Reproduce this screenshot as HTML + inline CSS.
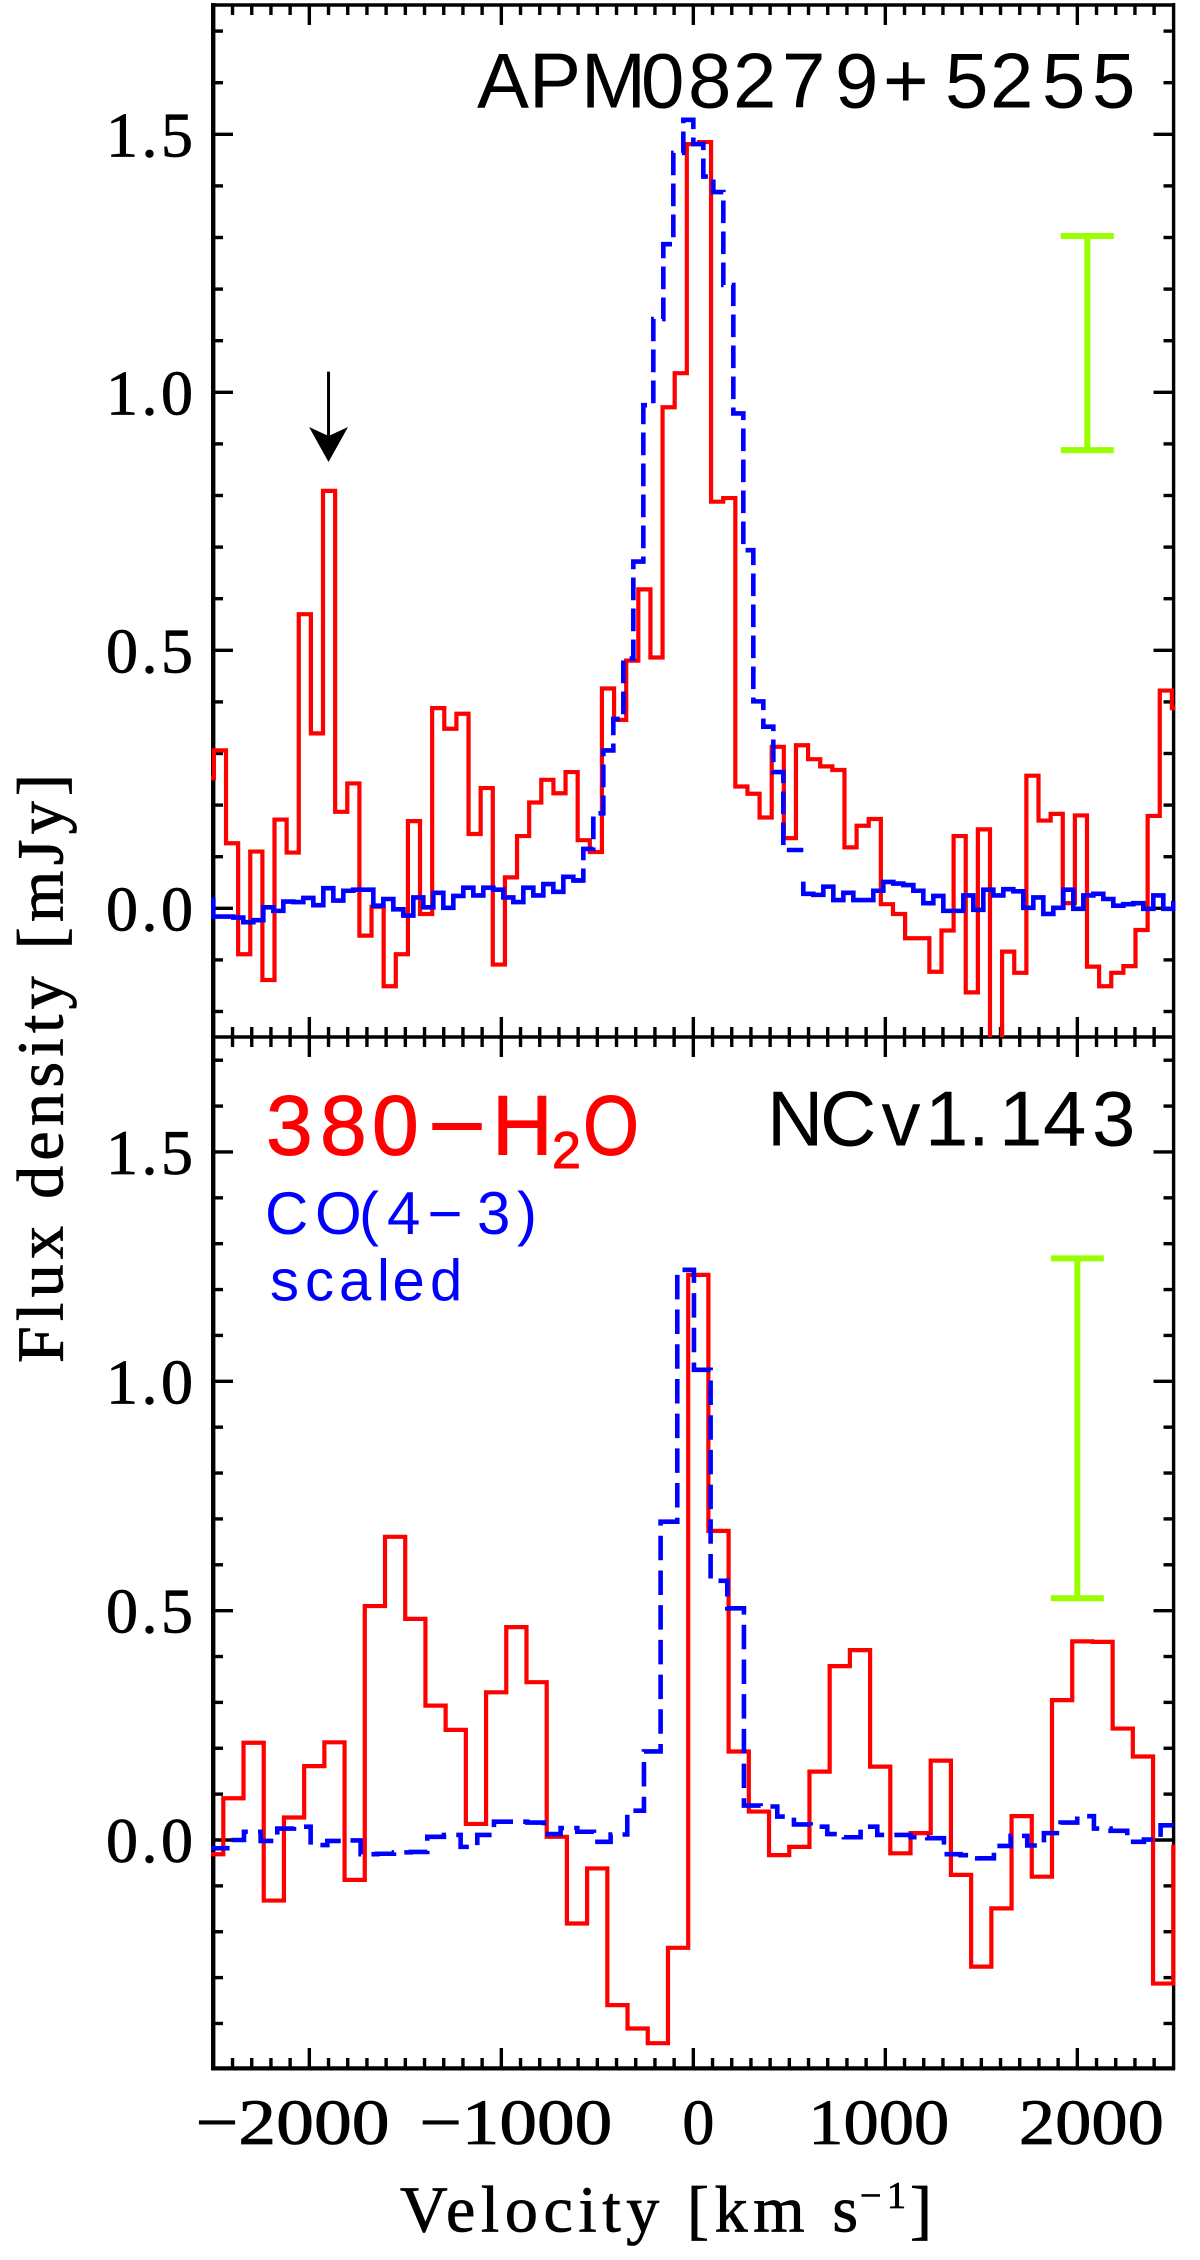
<!DOCTYPE html>
<html lang="en">
<head>
<meta charset="utf-8">
<title>APM08279+5255 and NCv1.143 spectra</title>
<style>
html,body{margin:0;padding:0;background:#fff;}
svg{display:block;position:absolute;left:0;top:0;}
.serif{font-family:"Liberation Serif",serif;fill:#000;stroke:#000;stroke-width:.8;}
.sans{font-family:"Liberation Sans",sans-serif;}
</style>
</head>
<body>
<svg id="chart" xmlns="http://www.w3.org/2000/svg" width="1200" height="2260" viewBox="0 0 1200 2260">
  <defs>
    <clipPath id="clip-top"><rect x="211" y="3" width="964.5" height="1034"/></clipPath>
    <clipPath id="clip-bottom"><rect x="211" y="1037" width="964.5" height="1031"/></clipPath>
  </defs>
  <rect x="0" y="0" width="1200" height="2260" fill="#fff"/>
  <g id="axes"></g>
  <g id="series"></g>
  <g id="overlays"></g>

  <text class="sans" x="477 529 581 641 688 733 782 835 883 945 990 1042 1092" y="107.5" font-size="78" fill="#000">APM08279+5255</text>
  <text class="sans" x="767 820 881.5 925 968 999 1043 1092" y="1145.5" font-size="78" fill="#000">NCv1.143</text>

  <g class="sans" fill="#f00" stroke="#f00" stroke-width="1">
    <text x="266 320 372" y="1154.5" font-size="84">380</text>
    <text x="428" y="1154.5" font-size="84" textLength="58" lengthAdjust="spacingAndGlyphs">−</text>
    <text x="492" y="1154.5" font-size="84">H</text>
    <text x="552" y="1168" font-size="52">2</text>
    <text x="583" y="1154.5" font-size="84" textLength="56" lengthAdjust="spacingAndGlyphs">O</text>
  </g>
  <text class="sans" x="265 315 359 387 427.5 477 517" y="1234" font-size="60" fill="#00f">CO(4−3)</text>
  <text class="sans" x="270 305 339 377 392.5 430" y="1300.5" font-size="58" fill="#00f">scaled</text>

  <text class="serif" transform="translate(62.5,1363) rotate(-90)" x="0" y="0" font-size="66" textLength="589" lengthAdjust="spacing">Flux density [mJy]</text>

  <g class="serif">
    <text x="400" y="2231.5" font-size="66" textLength="458" lengthAdjust="spacing">Velocity [km s</text>
    <text x="860" y="2208" font-size="38" textLength="46" lengthAdjust="spacing">−1</text>
    <text x="910" y="2231.5" font-size="66">]</text>
  </g>
</svg>
<script>
// ---- data ----
const xMajorTicks = [-2000, -1000, 0, 1000, 2000];
const xMajorLabels = ['−2000', '−1000', '0', '1000', '2000'];
const yMajorTicks = [0, 0.5, 1.0, 1.5];
const yMajorLabels = ['0.0', '0.5', '1.0', '1.5'];

const apmRedStart = -2560.3;
const apmRedBinWidth = 63.16;
const apmRedFlux = [0.252,0.306,0.126,-0.089,0.110,-0.139,0.172,0.108,0.570,0.339,0.809,0.187,0.242,-0.053,0.003,-0.151,-0.089,0.169,-0.011,0.388,0.348,0.377,0.144,0.233,-0.109,0.060,0.140,0.205,0.249,0.223,0.264,0.132,0.109,0.426,0.365,0.480,0.618,0.486,0.971,1.037,1.481,1.485,0.788,0.795,0.236,0.222,0.176,0.313,0.136,0.316,0.289,0.275,0.268,0.118,0.160,0.173,0.008,-0.011,-0.058,-0.058,-0.123,-0.043,0.140,-0.163,0.153,-0.300,-0.084,-0.125,0.257,0.170,0.183,0.010,0.180,-0.113,-0.151,-0.125,-0.112,-0.042,0.179,0.422,0.388];

const apmBlueStart = -2552.08;
const apmBlueBinWidth = 52.083;
const apmBlueFlux = [0.016,-0.016,-0.016,-0.018,-0.027,-0.023,0.002,-0.005,0.013,0.012,0.020,0.006,0.039,0.015,0.034,0.036,0.036,0.005,0.018,-0.002,-0.014,0.021,0.002,0.030,0.001,0.024,0.040,0.025,0.040,0.036,0.021,0.012,0.040,0.025,0.047,0.032,0.061,0.054,0.115,0.184,0.306,0.367,0.484,0.672,0.975,1.142,1.287,1.464,1.528,1.481,1.418,1.388,1.208,0.959,0.694,0.401,0.352,0.264,0.113,0.113,0.028,0.026,0.042,0.016,0.030,0.016,0.016,0.034,0.051,0.048,0.045,0.034,0.010,0.024,-0.005,-0.005,0.025,-0.003,0.036,0.025,0.037,0.033,0.001,0.021,-0.011,0.001,0.036,-0.001,0.025,0.028,0.018,0.005,0.008,0.010,-0.001,0.025,-0.001,0.010];
// Only the line core of this trace is dashed: bin indices in apmBlueFlux.
const apmBlueDashedBins = [38, 60];

const ncvRedStart = -2553.3;
const ncvRedBinWidth = 105.27;
const ncvRedFlux = [-0.031,0.091,0.212,-0.132,0.049,0.161,0.213,-0.087,0.510,0.661,0.482,0.293,0.240,0.035,0.322,0.464,0.344,0.007,-0.182,-0.062,-0.360,-0.411,-0.443,-0.235,1.232,0.674,0.193,0.062,-0.033,-0.015,0.149,0.379,0.414,0.160,-0.029,0.015,0.173,-0.076,-0.276,-0.149,0.052,-0.080,0.305,0.433,0.432,0.243,0.182,-0.313,-0.015];

const ncvBlueStart = -2514;
const ncvBlueBinWidth = 86.8;
const ncvBlueFlux = [-0.018,0.000,0.018,-0.002,0.025,0.029,-0.011,-0.002,-0.001,-0.031,-0.030,-0.027,-0.026,0.007,0.011,-0.015,0.011,0.040,0.040,0.038,0.013,0.026,0.018,-0.004,0.012,0.064,0.193,0.694,1.243,1.025,0.565,0.505,0.075,0.073,0.051,0.034,0.029,0.013,0.006,0.029,0.011,0.011,0.006,0.004,-0.031,-0.033,-0.040,-0.013,0.009,-0.012,0.015,0.038,0.052,0.025,0.020,-0.004,0.001,0.032];

const apmErrorBar = {velocity: 2052, low: 0.888, high: 1.303};
const ncvErrorBar = {velocity: 2000, low: 0.527, high: 1.268};
const arrowVelocity = -1900;
const arrowFluxTop = 1.04;
const arrowFluxTip = 0.865;

// ---- axis functions ----
function xScale(v) { return 693.33 + v * 0.192; }
function yTop(f) { return 908.3 - f * 516; }
function yBottom(f) { return 1840 - f * 458.7; }

const NS = 'http://www.w3.org/2000/svg';
const axesLayer = document.getElementById('axes');
const seriesLayer = document.getElementById('series');
const overlayLayer = document.getElementById('overlays');

function make(tag, parent, attrs) {
  const el = document.createElementNS(NS, tag);
  for (const k in attrs) el.setAttribute(k, attrs[k]);
  parent.appendChild(el);
  return el;
}

function tickLine(x1, y1, x2, y2, w, name) {
  const el = make('line', axesLayer, {x1: x1, y1: y1, x2: x2, y2: y2, stroke: '#000', 'stroke-width': w});
  
  
}

function drawFrame() {
  tickLine(213.2, 3, 213.2, 2070, 4.4, 'left-axis-line');
  tickLine(1173.6, 3, 1173.6, 2070, 3.4, 'right-axis-line');
  tickLine(211, 5, 1175, 5, 3.6, 'top-axis-line');
  tickLine(211, 1037, 1175, 1037, 3.6, 'panel-divider-axis-line');
  tickLine(211, 2068.4, 1175, 2068.4, 4.2, 'bottom-axis-line');
}

function drawXTicks(yEdge, dir, name) {
  for (let v = -2400; v <= 2400; v += 100) {
    const major = v % 1000 === 0;
    const x = xScale(v);
    tickLine(x, yEdge, x, yEdge + dir * (major ? 20 : 10), 3.4, name + (major ? '-major-tick' : '-minor-tick'));
  }
}

function drawYTicks(yFn, lowTenth, highTenth, name) {
  for (let t = lowTenth; t <= highTenth; t++) {
    const major = t % 5 === 0;
    const y = yFn(t / 10);
    const len = major ? 20 : 10;
    tickLine(213, y, 213 + len, y, 3.4, name + (major ? '-major-tick-left' : '-minor-tick-left'));
    tickLine(1173.5, y, 1173.5 - len, y, 3.4, name + (major ? '-major-tick-right' : '-minor-tick-right'));
  }
}

function drawYLabels(yFn, name) {
  yMajorTicks.forEach(function (v, i) {
    const t = make('text', axesLayer, {
      x: 106, y: yFn(v) + 22, 'font-size': 64, 'class': 'serif', textLength: 87, lengthAdjust: 'spacing'
    });
    t.textContent = yMajorLabels[i];
    
    
  });
}

function drawXLabels() {
  const nudges = [-16.7, 14.5, 5, -6.6, 14];
  const spans = [194, 193, 32, 141, 145];
  xMajorTicks.forEach(function (v, i) {
    const t = make('text', axesLayer, {
      x: xScale(v) + nudges[i] - spans[i] / 2, y: 2144, 'font-size': 65, 'class': 'serif',
      textLength: spans[i], lengthAdjust: 'spacingAndGlyphs'
    });
    t.textContent = xMajorLabels[i];
    
    
  });
}

function stepPath(values, start, width, yFn, from, to, leadIn) {
  const a = from === undefined ? 0 : from;
  const b = to === undefined ? values.length : to;
  let firstY = yFn(values[a]);
  if (leadIn) firstY = firstY + (yFn(values[a - 1]) - firstY) * leadIn;
  let d = 'M' + xScale(start + a * width).toFixed(2) + ' ' + firstY.toFixed(2);
  for (let i = a; i < b; i++) {
    d += 'V' + yFn(values[i]).toFixed(2);
    d += 'H' + xScale(start + (i + 1) * width).toFixed(2);
  }
  return d;
}

function drawHistogram(parent, d, color, width, dash, dashOffset, name, clip) {
  const p = make('path', parent, {
    d: d, fill: 'none', stroke: color, 'stroke-width': width,
    'stroke-linejoin': 'miter', 'clip-path': 'url(#' + clip + ')'
  });
  if (dash) {
    p.setAttribute('stroke-dasharray', dash);
    p.setAttribute('stroke-dashoffset', dashOffset);
  }
  
  
  return p;
}

function drawErrorBar(bar, yFn, name) {
  const x = xScale(bar.velocity);
  const g = make('g', overlayLayer, {stroke: '#99ff00', 'stroke-width': 6});
  
  
  make('line', g, {x1: x, y1: yFn(bar.high), x2: x, y2: yFn(bar.low)});
  make('line', g, {x1: x - 26.5, y1: yFn(bar.high), x2: x + 26.5, y2: yFn(bar.high)});
  make('line', g, {x1: x - 26.5, y1: yFn(bar.low), x2: x + 26.5, y2: yFn(bar.low)});
}

function drawArrow() {
  const x = xScale(arrowVelocity);
  const top = yTop(arrowFluxTop);
  const tip = yTop(arrowFluxTip);
  const g = make('g', overlayLayer, {});
  
  
  make('line', g, {x1: x, y1: top, x2: x, y2: tip - 20, stroke: '#000', 'stroke-width': 3});
  make('path', g, {d: 'M' + x + ' ' + tip + 'L' + (x - 19.5) + ' ' + (tip - 35) + 'L' + x + ' ' + (tip - 26) + 'L' + (x + 19.5) + ' ' + (tip - 35) + 'Z', fill: '#000'});
}

// ---- axes ----
drawFrame();
drawXTicks(5, 1, 'top-panel-upper-x');
drawXTicks(1037, -1, 'top-panel-lower-x');
drawXTicks(1037, 1, 'bottom-panel-upper-x');
drawXTicks(2068, -1, 'bottom-panel-lower-x');
drawYTicks(yTop, -2, 17, 'top-panel-y');
drawYTicks(yBottom, -4, 17, 'bottom-panel-y');
drawYLabels(yTop, 'top-panel-y-tick-label');
drawYLabels(yBottom, 'bottom-panel-y-tick-label');
drawXLabels();

// ---- series ----
drawHistogram(seriesLayer, stepPath(apmRedFlux, apmRedStart, apmRedBinWidth, yTop), '#f00', 4.2, null, 0, 'apm-water-spectrum', 'clip-top');
drawHistogram(seriesLayer, stepPath(apmBlueFlux, apmBlueStart, apmBlueBinWidth, yTop, 0, apmBlueDashedBins[0]), '#00f', 4.6, null, 0, 'apm-co-spectrum-blue-wing', 'clip-top');
drawHistogram(seriesLayer, stepPath(apmBlueFlux, apmBlueStart, apmBlueBinWidth, yTop, apmBlueDashedBins[0] - 1, apmBlueDashedBins[1]), '#00f', 4.6, '22.7 8.3', 0.8, 'apm-co-spectrum-core', 'clip-top');
drawHistogram(seriesLayer, stepPath(apmBlueFlux, apmBlueStart, apmBlueBinWidth, yTop, apmBlueDashedBins[1], apmBlueFlux.length, 0.28), '#00f', 4.6, null, 0, 'apm-co-spectrum-red-wing', 'clip-top');
drawHistogram(seriesLayer, stepPath(ncvRedFlux, ncvRedStart, ncvRedBinWidth, yBottom), '#f00', 4.2, null, 0, 'ncv-water-spectrum', 'clip-bottom');
drawHistogram(seriesLayer, stepPath(ncvBlueFlux, ncvBlueStart, ncvBlueBinWidth, yBottom), '#00f', 4.6, '24.5 10.2', 5.5, 'ncv-co-spectrum', 'clip-bottom');

// ---- annotations ----
drawErrorBar(apmErrorBar, yTop, 'apm-error-bar');
drawErrorBar(ncvErrorBar, yBottom, 'ncv-error-bar');
drawArrow();
</script>
</body>
</html>
